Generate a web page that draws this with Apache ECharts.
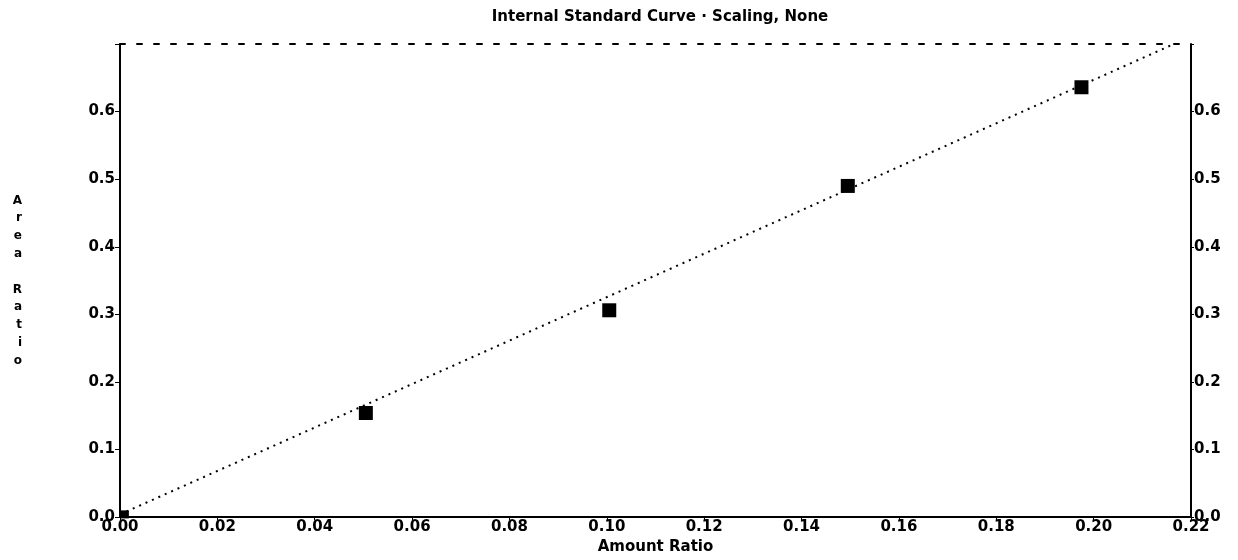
<!DOCTYPE html>
<html>
<head>
<meta charset="utf-8">
<script src="https://cdn.jsdelivr.net/npm/echarts@6/dist/echarts.min.js"></script>
<style>html,body{margin:0;padding:0;background:#fff;}#c{width:1238px;height:560px;}</style>
</head>
<body>
<div id="c"></div>
<script>
const titleText = 'Internal Standard Curve · Scaling, None';
const xName = 'Amount Ratio';
const yName = 'Area Ratio';
const amountRatio = [0.001, 0.0505, 0.1005, 0.1495, 0.1975];
const areaRatio = [0.004, 0.154, 0.306, 0.490, 0.636];
const fitAmount = [0, 0.2165];
const fitArea = [0.004, 0.700];

const chart = echarts.init(document.getElementById('c'));
const font = 'DejaVu Sans';
const verticalName = yName.split('').map(ch => ch === ' ' ? '' : ch).join('\n');
const labelStyle = { fontFamily: font, fontSize: 15, fontWeight: 'bold', color: '#000' };

chart.setOption({
  backgroundColor: '#ffffff',
  animation: false,
  title: {
    text: titleText, left: 655, textAlign: 'center', top: 5,
    textStyle: { fontFamily: font, fontSize: 15, fontWeight: 'bold', color: '#000' }
  },
  grid: { left: 120, right: 47, top: 44, bottom: 38 },
  xAxis: [{
    type: 'value', min: 0, max: 0.22, interval: 0.02, position: 'bottom',
    name: xName, nameLocation: 'middle', nameGap: 19,
    nameTextStyle: { fontFamily: font, fontSize: 15, fontWeight: 'bold', color: '#000' },
    axisLine: { show: true, onZero: false, lineStyle: { color: '#000', width: 2 } },
    axisTick: { show: true, length: 3, lineStyle: { color: '#000' } },
    axisLabel: Object.assign({ margin: 3, formatter: v => v.toFixed(2) }, labelStyle),
    splitLine: { show: false }
  }, {
    type: 'value', min: 0, max: 0.22, position: 'top',
    axisLine: { show: true, onZero: false, lineStyle: { color: '#000', width: 2, type: [5, 12] } },
    axisTick: { show: false }, axisLabel: { show: false }, splitLine: { show: false }
  }],
  yAxis: [{
    type: 'value', min: 0, max: 0.7, interval: 0.1, position: 'left',
    name: verticalName, nameLocation: 'middle', nameRotate: 0, nameGap: 98,
    nameTextStyle: { fontFamily: font, fontSize: 12, fontWeight: 'bold', color: '#000', lineHeight: 17.8 },
    axisLine: { show: true, onZero: false, lineStyle: { color: '#000', width: 2 } },
    axisTick: { show: true, length: 5, lineStyle: { color: '#000' } },
    axisLabel: Object.assign({ margin: 5, formatter: v => v > 0.65 ? '' : v.toFixed(1) }, labelStyle),
    splitLine: { show: false }
  }, {
    type: 'value', min: 0, max: 0.7, interval: 0.1, position: 'right',
    axisLine: { show: true, onZero: false, lineStyle: { color: '#000', width: 2 } },
    axisTick: { show: true, length: 3, lineStyle: { color: '#000' } },
    axisLabel: Object.assign({ margin: 3, formatter: v => v > 0.65 ? '' : v.toFixed(1) }, labelStyle),
    splitLine: { show: false }
  }],
  series: [{
    type: 'line', xAxisIndex: 0, yAxisIndex: 0,
    data: fitAmount.map((x, i) => [x, fitArea[i]]),
    showSymbol: false, symbol: 'none',
    lineStyle: { color: '#000', width: 2, type: [2, 5] },
    z: 2
  }, {
    type: 'scatter', xAxisIndex: 0, yAxisIndex: 0,
    data: amountRatio.map((x, i) => [x, areaRatio[i]]),
    symbol: 'rect', symbolSize: v => (v[0] < 0.01 ? 8 : 14),
    itemStyle: { color: '#000', opacity: 1 },
    z: 3
  }]
});
</script>
</body>
</html>
